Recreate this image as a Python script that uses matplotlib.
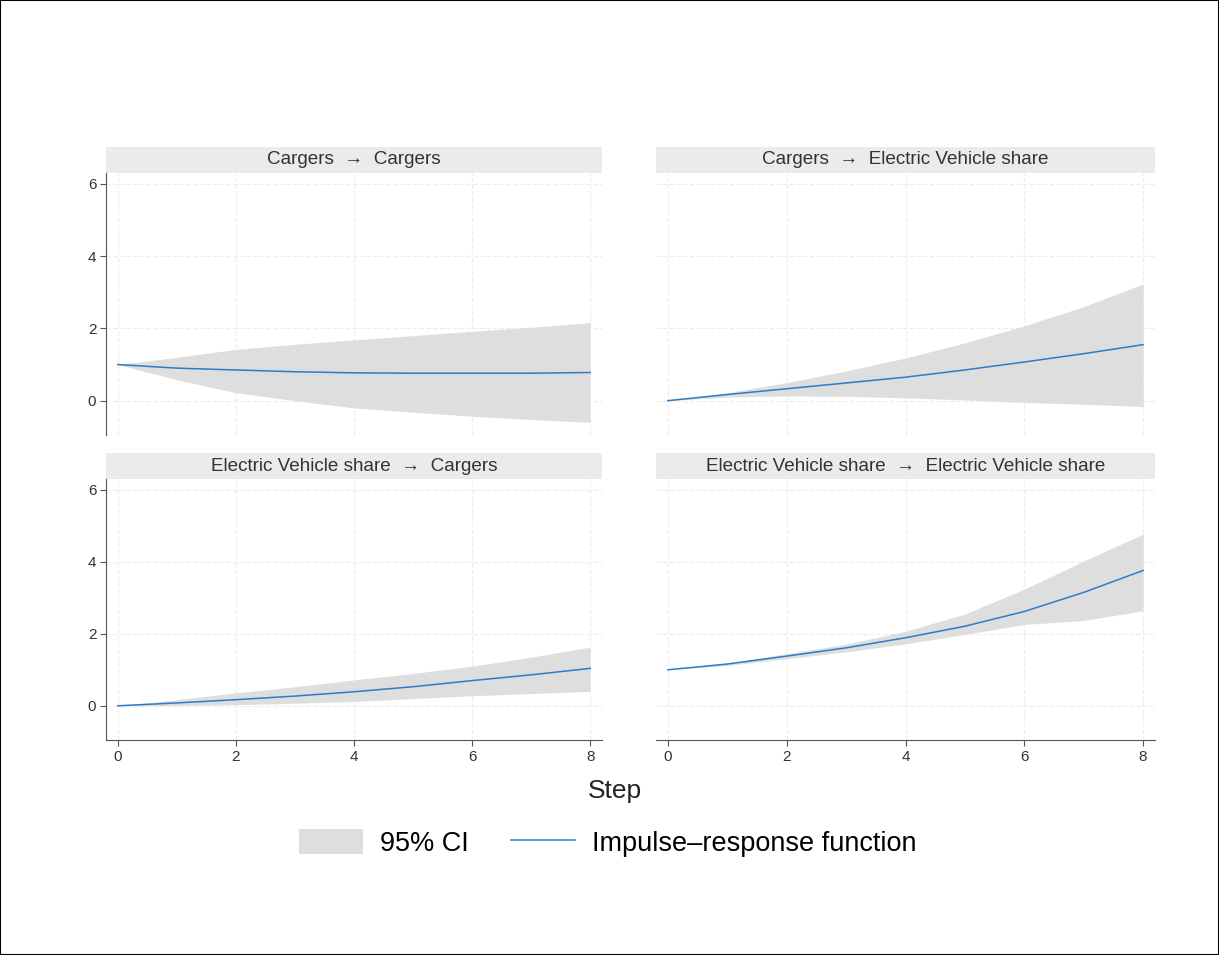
import matplotlib.pyplot as plt
from matplotlib.patches import Patch, Rectangle
from matplotlib.lines import Line2D
import numpy as np

plt.rcParams['font.family'] = ['Liberation Sans', 'DejaVu Sans']

# data
steps = [0, 1, 2, 3, 4, 5, 6, 7, 8]
titles = ['Cargers  \u2192  Cargers', 'Cargers  \u2192  Electric Vehicle share',
          'Electric Vehicle share  \u2192  Cargers',
          'Electric Vehicle share  \u2192  Electric Vehicle share']

irf_cc = [1.0, 0.9, 0.85, 0.8, 0.77, 0.76, 0.76, 0.76, 0.78]
lo_cc = [1.0, 0.58, 0.22, 0.0, -0.2, -0.32, -0.43, -0.52, -0.6]
hi_cc = [1.0, 1.2, 1.42, 1.56, 1.68, 1.8, 1.92, 2.03, 2.16]

irf_ce = [0.0, 0.17, 0.33, 0.49, 0.65, 0.85, 1.07, 1.3, 1.55]
lo_ce = [0.0, 0.1, 0.13, 0.12, 0.08, 0.02, -0.05, -0.1, -0.16]
hi_ce = [0.0, 0.22, 0.5, 0.82, 1.18, 1.6, 2.07, 2.6, 3.23]

irf_ec = [0.0, 0.08, 0.17, 0.27, 0.39, 0.53, 0.7, 0.86, 1.04]
lo_ec = [0.0, 0.01, 0.03, 0.07, 0.12, 0.2, 0.28, 0.34, 0.4]
hi_ec = [0.0, 0.17, 0.36, 0.53, 0.72, 0.9, 1.1, 1.35, 1.63]

irf_ee = [1.0, 1.16, 1.38, 1.61, 1.89, 2.21, 2.62, 3.15, 3.76]
lo_ee = [1.0, 1.12, 1.31, 1.5, 1.72, 1.98, 2.26, 2.37, 2.64]
hi_ee = [1.0, 1.19, 1.45, 1.71, 2.07, 2.55, 3.24, 4.02, 4.77]

irfs = [irf_cc, irf_ce, irf_ec, irf_ee]
los = [lo_cc, lo_ce, lo_ec, lo_ee]
his = [hi_cc, hi_ce, hi_ec, hi_ee]

W, H = 1219, 955
fig = plt.figure(figsize=(W / 100, H / 100), dpi=100)

# panel boxes in pixels: left, top, right, bottom
boxes = [(106, 173, 602, 435), (656, 173, 1155, 435),
         (106, 479, 602, 740), (656, 479, 1155, 740)]

line_col = '#2f7bc8'
ci_col = '#dedede'
axis_col = '#555555'

for i, (l, t, r, b) in enumerate(boxes):
    ax = fig.add_axes([l / W, 1 - b / H, (r - l) / W, (b - t) / H])
    ax.fill_between(steps, los[i], his[i], color=ci_col, lw=0, zorder=2)
    ax.plot(steps, irfs[i], color=line_col, lw=1.1, zorder=3)
    ax.set_xlim(-0.2, 8.2)
    ax.set_ylim(-0.95, 6.3)
    ax.set_xticks([0, 2, 4, 6, 8])
    ax.set_yticks([0, 2, 4, 6])
    ax.grid(True, color='#ececec', lw=0.8, ls=(0, (4, 2)), zorder=0)
    for s in ['top', 'right']:
        ax.spines[s].set_visible(False)
    ax.spines['left'].set_color(axis_col)
    ax.spines['bottom'].set_color(axis_col)
    ax.tick_params(colors='#333333', labelsize=11, length=4.5, width=0.8,
                   color=axis_col, pad=2.5)
    if i % 2 == 1:
        ax.spines['left'].set_visible(False)
        ax.tick_params(axis='y', left=False, labelleft=False)
    if i < 2:
        ax.spines['bottom'].set_visible(False)
        ax.tick_params(axis='x', bottom=False, labelbottom=False)
    # strip title
    sh = 26 / (b - t)
    ax.add_patch(Rectangle((0, 1), 1, sh, transform=ax.transAxes, color='#ebebeb',
                           clip_on=False, lw=0))
    ax.text(0.5, 1 + sh / 2, titles[i], transform=ax.transAxes, ha='center',
            va='center', fontsize=13.6, color='#333333')

fig.text(615 / W, 1 - 798 / H, 'Step', ha='center', va='baseline', fontsize=19, color='#222222')

handles = [Patch(facecolor=ci_col, edgecolor='none'), Line2D([0], [0], color=line_col, lw=1.1)]
fig.legend(handles, ['95% CI', 'Impulse\u2013response function'], ncol=2, frameon=False,
           loc='center', bbox_to_anchor=(608 / W, 1 - 843 / H), fontsize=19.5,
           handlelength=2.37, handleheight=1.0, columnspacing=1.55, handletextpad=0.63)

fig.patches.append(Rectangle((0, 0), 1, 1, transform=fig.transFigure, fill=False,
                             edgecolor='black', lw=1.5))

fig.savefig('out.png', dpi=100)
